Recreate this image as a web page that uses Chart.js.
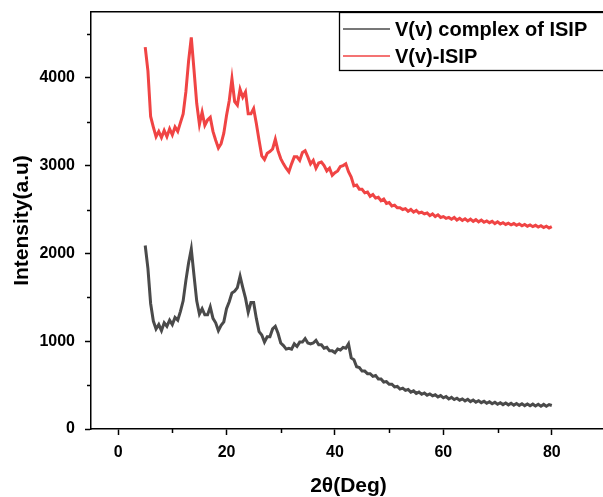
<!DOCTYPE html>
<html>
<head>
<meta charset="utf-8">
<script src="https://cdn.jsdelivr.net/npm/chart.js@4/dist/chart.umd.min.js"></script>
<style>
  html, body { margin: 0; padding: 0; background: #fff; overflow: hidden; }
  #wrap { position: relative; width: 615px; height: 497px; }
</style>
</head>
<body>
<div id="wrap"><canvas id="xrd"></canvas></div>
<script>
// 2theta angles (deg)
const angles = [
  5.0, 5.5, 6.0, 6.5, 7.0, 7.5, 8.0, 8.5, 9.0, 9.5,
  10.0, 10.5, 11.0, 11.5, 12.0, 12.5, 13.0, 13.5, 14.0, 14.5,
  15.0, 15.5, 16.0, 16.5, 17.0, 17.5, 18.0, 18.5, 19.0, 19.5,
  20.0, 20.5, 21.0, 21.5, 22.0, 22.5, 23.0, 23.5, 24.0, 24.5,
  25.0, 25.5, 26.0, 26.5, 27.0, 27.5, 28.0, 28.5, 29.0, 29.5,
  30.0, 30.5, 31.0, 31.5, 32.0, 32.5, 33.0, 33.5, 34.0, 34.5,
  35.0, 35.5, 36.0, 36.5, 37.0, 37.5, 38.0, 38.5, 39.0, 39.5,
  40.0, 40.5, 41.0, 41.5, 42.0, 42.5, 43.0, 43.5, 44.0, 44.5,
  45.0, 45.5, 46.0, 46.5, 47.0, 47.5, 48.0, 48.5, 49.0, 49.5,
  50.0, 50.5, 51.0, 51.5, 52.0, 52.5, 53.0, 53.5, 54.0, 54.5,
  55.0, 55.5, 56.0, 56.5, 57.0, 57.5, 58.0, 58.5, 59.0, 59.5,
  60.0, 60.5, 61.0, 61.5, 62.0, 62.5, 63.0, 63.5, 64.0, 64.5,
  65.0, 65.5, 66.0, 66.5, 67.0, 67.5, 68.0, 68.5, 69.0, 69.5,
  70.0, 70.5, 71.0, 71.5, 72.0, 72.5, 73.0, 73.5, 74.0, 74.5,
  75.0, 75.5, 76.0, 76.5, 77.0, 77.5, 78.0, 78.5, 79.0, 79.5,
  80.0
];

// V(v) complex of ISIP
const complexVals = [
  2090, 1830, 1430, 1230, 1140, 1190, 1120, 1210, 1170, 1240,
  1190, 1270, 1240, 1340, 1460, 1690, 1890, 2050, 1750, 1460,
  1310, 1370, 1300, 1300, 1390, 1260, 1210, 1120, 1180, 1220,
  1370, 1450, 1550, 1570, 1610, 1740, 1610, 1490, 1330, 1440,
  1440, 1260, 1110, 1070, 990, 1050, 1050, 1140, 1170, 1090,
  980, 950, 910, 920, 910, 970, 940, 990, 990, 1030,
  980, 970, 980, 1010, 960, 960, 920, 930, 890, 890,
  870, 910, 900, 930, 920, 970, 810, 790, 710, 700,
  660, 660, 630, 630, 600, 610, 570, 570, 535, 540,
  510, 510, 480, 485, 455, 465, 440, 450, 420, 435,
  405, 420, 395, 410, 385, 400, 378, 390, 365, 380,
  355, 370, 342, 360, 335, 350, 328, 343, 320, 338,
  312, 330, 306, 322, 300, 316, 293, 310, 287, 305,
  282, 300, 278, 296, 275, 293, 272, 290, 269, 287,
  266, 285, 264, 283, 262, 281, 260, 280, 259, 278,
  268
];

// V(v)-ISIP
const isipVals = [
  4350, 4080, 3560, 3440, 3330, 3390, 3320, 3400, 3330, 3420,
  3350, 3440, 3390, 3490, 3590, 3840, 4190, 4460, 4090, 3710,
  3470, 3610, 3460, 3520, 3550, 3390, 3290, 3200, 3250, 3370,
  3570, 3740, 3990, 3730, 3690, 3870, 3780, 3840, 3590, 3590,
  3650, 3480, 3290, 3110, 3070, 3140, 3160, 3190, 3300, 3170,
  3080, 3020, 2970, 2930, 3020, 3100, 3100, 3060, 3150, 3170,
  3100, 3020, 3060, 2970, 3030, 3040, 3000, 2940, 2970, 2890,
  2920, 2940, 2990, 3000, 3020, 2930, 2870, 2770, 2780, 2730,
  2730, 2690, 2700, 2650, 2670, 2630, 2640, 2600, 2620, 2570,
  2580, 2540, 2550, 2520, 2520, 2500, 2510, 2480, 2500, 2470,
  2490, 2460, 2470, 2450, 2460, 2430, 2450, 2420, 2440, 2410,
  2420, 2400, 2410, 2390, 2410, 2380, 2400, 2375, 2395, 2370,
  2390, 2365, 2385, 2360, 2380, 2355, 2370, 2350, 2365, 2340,
  2360, 2335, 2350, 2330, 2345, 2325, 2340, 2320, 2335, 2315,
  2330, 2310, 2325, 2305, 2320, 2300, 2315, 2295, 2310, 2290,
  2305
];

const seriesNames = ['V(v) complex of ISIP', 'V(v)-ISIP'];
const seriesColors = ['#4a4a4a', '#f04444'];

const xTicks = [0, 10, 20, 30, 40, 50, 60, 70, 80, 90];
const yTicks = [0, 500, 1000, 1500, 2000, 2500, 3000, 3500, 4000, 4500];

const FONT = '"Liberation Sans", Arial, sans-serif';

function pts(vals) {
  return angles.map((a, i) => ({ x: a, y: vals[i] }));
}

// short minor ticks + boxed legend
const extras = {
  id: 'extras',
  afterDraw(chart) {
    const ctx = chart.ctx;
    const xs = chart.scales.x, ys = chart.scales.y;
    const area = chart.chartArea;
    ctx.save();
    ctx.strokeStyle = '#000';
    ctx.lineWidth = 1.5;
    xTicks.filter(v => v % 20 !== 0).forEach(v => {
      const px = Math.round(xs.getPixelForValue(v)) + 0.5;
      ctx.beginPath(); ctx.moveTo(px, area.bottom); ctx.lineTo(px, area.bottom + 4); ctx.stroke();
    });
    yTicks.filter(v => v % 1000 !== 0).forEach(v => {
      const py = Math.round(ys.getPixelForValue(v)) + 0.5;
      ctx.beginPath(); ctx.moveTo(area.left, py); ctx.lineTo(area.left - 4, py); ctx.stroke();
    });

    // legend
    const lx = 339, ly = area.top, lw = area.right - lx, lh = 58;
    ctx.fillStyle = '#fff';
    ctx.fillRect(lx, ly, lw, lh);
    ctx.lineWidth = 1.3;
    ctx.strokeRect(lx + 0.5, ly + 0.5, lw, lh);
    chart.data.datasets.forEach((ds, i) => {
      const y = ly + 17 + i * 27;
      ctx.strokeStyle = ds.borderColor;
      ctx.lineWidth = 1.6;
      ctx.beginPath(); ctx.moveTo(343, y); ctx.lineTo(390, y); ctx.stroke();
      ctx.fillStyle = '#000';
      ctx.font = 'bold 20px ' + FONT;
      ctx.textBaseline = 'middle';
      ctx.fillText(ds.label, 395, y + 1);
    });
    ctx.restore();
  }
};

new Chart(document.getElementById('xrd'), {
  type: 'line',
  data: {
    datasets: [
      { label: seriesNames[0], data: pts(complexVals), borderColor: seriesColors[0], borderWidth: 3, pointRadius: 0, tension: 0 },
      { label: seriesNames[1], data: pts(isipVals), borderColor: seriesColors[1], borderWidth: 3, pointRadius: 0, tension: 0 }
    ]
  },
  options: {
    responsive: true,
    maintainAspectRatio: false,
    animation: false,
    layout: { padding: 0 },
    plugins: { legend: { display: false }, tooltip: { enabled: false } },
    scales: {
      x: {
        type: 'linear', position: 'bottom', min: -5, max: 90,
        afterBuildTicks: s => { s.ticks = xTicks.map(v => ({ value: v })); },
        afterFit: s => { s.height = 68; s.paddingLeft = 0; s.paddingRight = 0; },
        ticks: {
          autoSkip: false, maxRotation: 0, padding: 8, color: '#000',
          font: { family: FONT, size: 16, weight: 'bold' },
          callback: v => (v % 20 === 0 ? v : '')
        },
        grid: {
          drawOnChartArea: false, tickLength: 6, tickWidth: 1.5,
          tickColor: c => (c.tick && c.tick.value % 20 === 0 ? '#000' : 'rgba(0,0,0,0)')
        },
        border: { display: true, color: '#000', width: 1.5 },
        title: {
          display: true, text: '2θ(Deg)', color: '#000',
          font: { family: FONT, size: 21, weight: 'bold', lineHeight: 1.0 },
          padding: { top: 0, bottom: 0 }
        }
      },
      x2: {
        type: 'linear', position: 'top', min: -5, max: 90,
        afterFit: s => { s.height = 12; s.paddingLeft = 0; s.paddingRight = 0; },
        ticks: { display: false },
        grid: { drawOnChartArea: false, drawTicks: false },
        border: { display: true, color: '#000', width: 1.5 }
      },
      y: {
        type: 'linear', position: 'left', min: 0, max: 4750,
        afterBuildTicks: s => { s.ticks = yTicks.map(v => ({ value: v })); },
        afterFit: s => { s.width = 91; s.paddingTop = 0; s.paddingBottom = 0; },
        ticks: {
          autoSkip: false, padding: 10, color: '#000',
          font: { family: FONT, size: 16, weight: 'bold' },
          callback: v => (v % 1000 === 0 ? v : '')
        },
        grid: {
          drawOnChartArea: false, tickLength: 6, tickWidth: 1.5,
          tickColor: c => (c.tick && c.tick.value % 1000 === 0 ? '#000' : 'rgba(0,0,0,0)')
        },
        border: { display: true, color: '#000', width: 1.5 },
        title: {
          display: true, text: 'Intensity(a.u)', color: '#000',
          font: { family: FONT, size: 21, weight: 'bold', lineHeight: 1.0 },
          padding: { top: 12, bottom: 0 }
        }
      },
      y2: {
        type: 'linear', position: 'right', min: 0, max: 4750,
        afterFit: s => { s.width = 9; s.paddingTop = 0; s.paddingBottom = 0; },
        ticks: { display: false },
        grid: { drawOnChartArea: false, drawTicks: false },
        border: { display: true, color: '#000', width: 1.5 }
      }
    }
  },
  plugins: [extras]
});
</script>
</body>
</html>
